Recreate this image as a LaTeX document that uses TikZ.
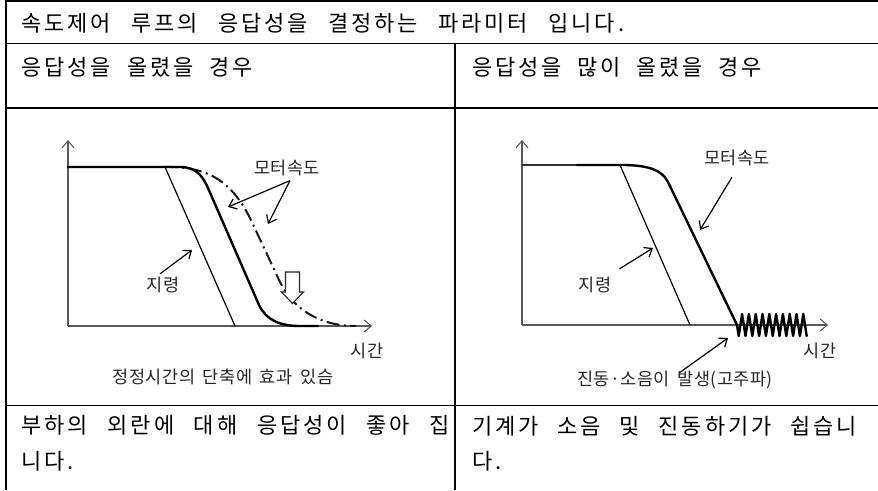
\documentclass[tikz,border=0pt]{standalone}
\usepackage{fontspec}
\setmainfont{Noto Sans CJK KR}
\newfontfamily\kmain[LetterSpace=13.5,WordSpace=1]{Noto Sans CJK KR}
\newfontfamily\kdiag[LetterSpace=2.5,WordSpace=1.8]{Noto Sans CJK KR}
\usetikzlibrary{arrows.meta}
\begin{document}
\begin{tikzpicture}[x=1pt,y=-1pt,
  border/.style={line width=2pt,draw=black},
  rule/.style={line width=1.5pt,draw=black},
  axis/.style={line width=1.1pt,draw=black!65,-{Straight Barb[length=7pt,width=12pt]}},
  resp/.style={line width=2.4pt,draw=black,line cap=round,line join=round},
  cmd/.style={line width=1.2pt,draw=black},
  dashdot/.style={line width=2pt,draw=black!90,dash pattern=on 13pt off 4.5pt on 2pt off 4.5pt},
  ann/.style={line width=1.2pt,draw=black,-{Straight Barb[length=7pt,width=11pt]}},
  txt/.style={font={\kmain\fontsize{22}{26}\selectfont},inner sep=0pt,anchor=west,text=black},
  lbl/.style={font={\kdiag\fontsize{17.5}{20}\selectfont},inner sep=0pt,text=black!85},
  hollow/.style={line width=1.1pt,draw=black!85,fill=white,line join=miter}
]
\useasboundingbox (0,0) rectangle (878,490);
\fill[white] (0,0) rectangle (878,490);

% ---------- table ----------
\draw[border] (6,490) -- (6,1) -- (878,1);
\draw[rule] (6,43.5) -- (878,43.5);
\draw[rule] (6,108) -- (878,108);
\draw[rule] (6,405.5) -- (878,405.5);
\draw[rule] (455,43.5) -- (455,490);

% ---------- table texts ----------
\node[txt] (h1) at (21,23.5) {\makebox[603pt][s]{속도제어 루프의 응답성을 결정하는 파라미터 입니다.}};
\node[txt] (h2l) at (21,67) {\makebox[232pt][s]{응답성을 올렸을 경우}};
\node[txt] (h2r) at (472,67) {\makebox[290pt][s]{응답성을 많이 올렸을 경우}};
\node[txt] (b1l) at (21,425) {\makebox[429pt][s]{부하의 외란에 대해 응답성이 좋아 집}};
\node[txt] (b2l) at (21,461) {니다.};
\node[txt] (b1r) at (472,426) {\makebox[385pt][s]{기계가 소음 및 진동하기가 쉽습니}};
\node[txt] (b2r) at (472,461) {다.};

% ---------- left diagram ----------
\coordinate (oL) at (68,326);
\coordinate (yL) at (68,140);
\coordinate (xL) at (372,326);
\draw[axis] (oL) -- (yL);
\draw[axis] (oL) -- (xL);
\draw[cmd] (165,167) -- (235,326);
\draw[dashdot] (165,167) .. controls (212,166) and (233,185) .. (250,218)
  -- (280,282) .. controls (293,308) and (318,326) .. (356,326);
\draw[resp] (68,167) -- (180,167) .. controls (197,167) and (203,177) .. (208,188)
  -- (259,305) .. controls (266,320) and (280,326) .. (300,326) -- (318,326);
\draw[hollow] (285.5,272) -- (299.5,272) -- (299.5,292) -- (303.5,292)
  -- (292.5,303.5) -- (281.5,292) -- (285.5,292) -- cycle;

\node[lbl] (mL) at (287,168) {모터속도};
\node[lbl] (cL) at (163,285) {지령};
\node[lbl] (tL) at (367,351) {시간};
\node[lbl] (capL) at (223,377) {정정시간의 단축에 효과 있슴};
\coordinate (aL1) at (228,207);
\coordinate (aL2) at (268,224);
\coordinate (aL3) at (192,250);
\draw[ann] ([xshift=3pt,yshift=-4.5pt]mL.south) -- (aL1);
\draw[ann] ([xshift=3pt,yshift=-4.5pt]mL.south) -- (aL2);
\draw[ann] ([xshift=-3pt,yshift=3pt]cL.north) -- (aL3);

% ---------- right diagram ----------
\coordinate (oR) at (522,325);
\coordinate (yR) at (522,140);
\coordinate (xR) at (828,325);
\draw[axis] (oR) -- (yR);
\draw[axis] (oR) -- (xR);
\draw[cmd] (620,165) -- (690,325);
\draw[line width=1.6pt,draw=black!80] (522,165) -- (578,165);
\draw[resp] (577,165) -- (622,165) .. controls (648,165) and (662,170) .. (668,182)
  -- (737,325) -- (738.7,336)
  \foreach \i in {0,...,9} { -- ({742.1+6.8*\i},314) -- ({745.5+6.8*\i},336) };

\node[lbl] (mR) at (737,158) {모터속도};
\node[lbl] (cR) at (595,285) {지령};
\node[lbl] (tR) at (820,351) {시간};
\node[lbl] (capR) at (675,380) {진동·소음이 발생(고주파)};
\coordinate (aR1) at (700,230);
\coordinate (aR2) at (653,248);
\coordinate (aR3) at (728,338);
\draw[ann] ([xshift=-5pt,yshift=-11pt]mR.south) -- (aR1);
\draw[ann] ([xshift=8pt,yshift=8pt]cR.north east) -- (aR2);
\draw[ann] ([xshift=5pt,yshift=-1.5pt]capR.north) -- (aR3);
\end{tikzpicture}
\end{document}
